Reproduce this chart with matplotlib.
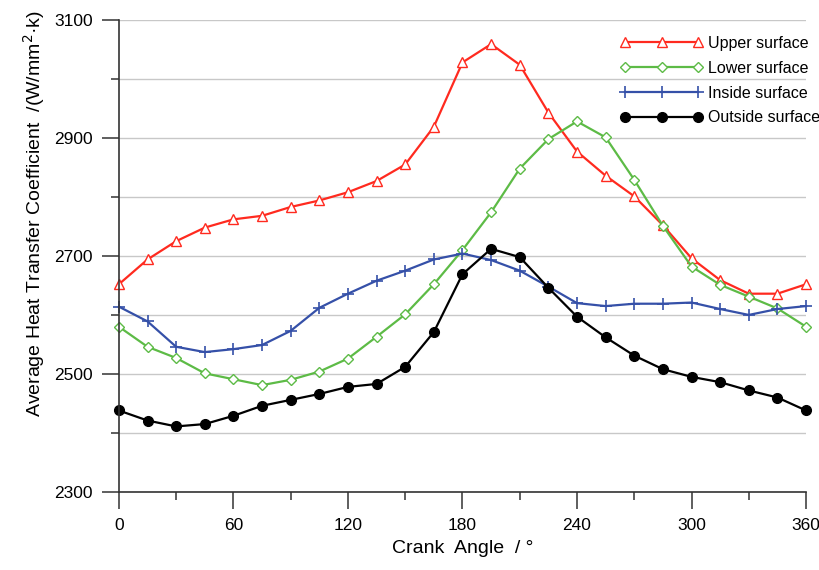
import numpy as np
import matplotlib.pyplot as plt

plt.rcParams['font.family'] = ['Liberation Sans', 'DejaVu Sans']

# Crank angle (deg), sampled every 15 degrees
crank_angle = list(range(0, 361, 15))

# Average heat transfer coefficient per surface, W/(mm^2.K)
upper_surface = [2652, 2694, 2725, 2748, 2762, 2768, 2783, 2794, 2808, 2827,
                 2855, 2919, 3028, 3059, 3024, 2943, 2877, 2836, 2801, 2752,
                 2696, 2659, 2636, 2636, 2652]
lower_surface = [2580, 2546, 2527, 2501, 2491, 2481, 2490, 2504, 2526, 2563,
                 2601, 2652, 2710, 2774, 2848, 2898, 2928, 2901, 2829, 2751,
                 2682, 2651, 2631, 2611, 2580]
inside_surface = [2614, 2589, 2546, 2537, 2542, 2549, 2573, 2612, 2636, 2658,
                  2675, 2694, 2704, 2693, 2675, 2648, 2620, 2615, 2619, 2619,
                  2621, 2610, 2600, 2610, 2615]
outside_surface = [2438, 2421, 2411, 2415, 2429, 2446, 2456, 2466, 2478, 2483,
                   2512, 2571, 2669, 2712, 2698, 2646, 2597, 2562, 2531, 2508,
                   2495, 2486, 2472, 2460, 2438]

fig = plt.figure(figsize=(8.2, 5.7), dpi=100)
ax = fig.add_axes([0.145, 0.137, 0.838, 0.828])

ax.plot(crank_angle, upper_surface, color='#ff2a1f', lw=1.6, marker='^',
        ms=7, mfc='white', mec='#ff2a1f', mew=1.0, label='Upper surface', clip_on=False)
ax.plot(crank_angle, lower_surface, color='#5dbb46', lw=1.6, marker='D',
        ms=5.5, mfc='white', mec='#5dbb46', mew=1.0, label='Lower surface', clip_on=False)
ax.plot(crank_angle, inside_surface, color='#3550a8', lw=1.6, marker='+',
        ms=9, mec='#3550a8', mew=1.2, label='Inside surface', clip_on=False)
ax.plot(crank_angle, outside_surface, color='black', lw=1.6, marker='o',
        ms=7, mfc='black', mec='black', label='Outside surface', clip_on=False)

ax.set_xlim(0, 360)
ax.set_ylim(2300, 3100)
ax.set_xticks(np.arange(0, 361, 60))
ax.set_xticks(np.arange(30, 360, 60), minor=True)
ax.set_yticks(np.arange(2300, 3101, 200))
ax.set_yticks(np.arange(2400, 3100, 200), minor=True)

ax.yaxis.grid(True, which='both', color='#c8c8c8', lw=1.0)
ax.set_axisbelow(True)

for side in ['top', 'right']:
    ax.spines[side].set_visible(False)
for side in ['left', 'bottom']:
    ax.spines[side].set_color('#333333')
    ax.spines[side].set_linewidth(1.2)

ax.tick_params(which='major', direction='out', length=12, width=1.1,
               color='#333333', labelsize=12.5, pad=7)
ax.tick_params(which='minor', direction='out', length=6, width=1.1,
               color='#333333')

ax.set_xlabel('Crank  Angle  / \u00b0', fontsize=14, labelpad=5)
ax.set_ylabel('Average Heat Transfer Coefficient  /(W/mm$^{2}$\u00b7k)',
              fontsize=14, labelpad=6)
ax.yaxis.set_label_coords(-0.105, 0.59)

ax.legend(loc='upper left', bbox_to_anchor=(0.72, 0.98), frameon=False,
          fontsize=11.5, numpoints=3, handlelength=5.2, handletextpad=0.3,
          labelspacing=0.62, borderaxespad=0.0)

plt.savefig('out.png', dpi=100)
